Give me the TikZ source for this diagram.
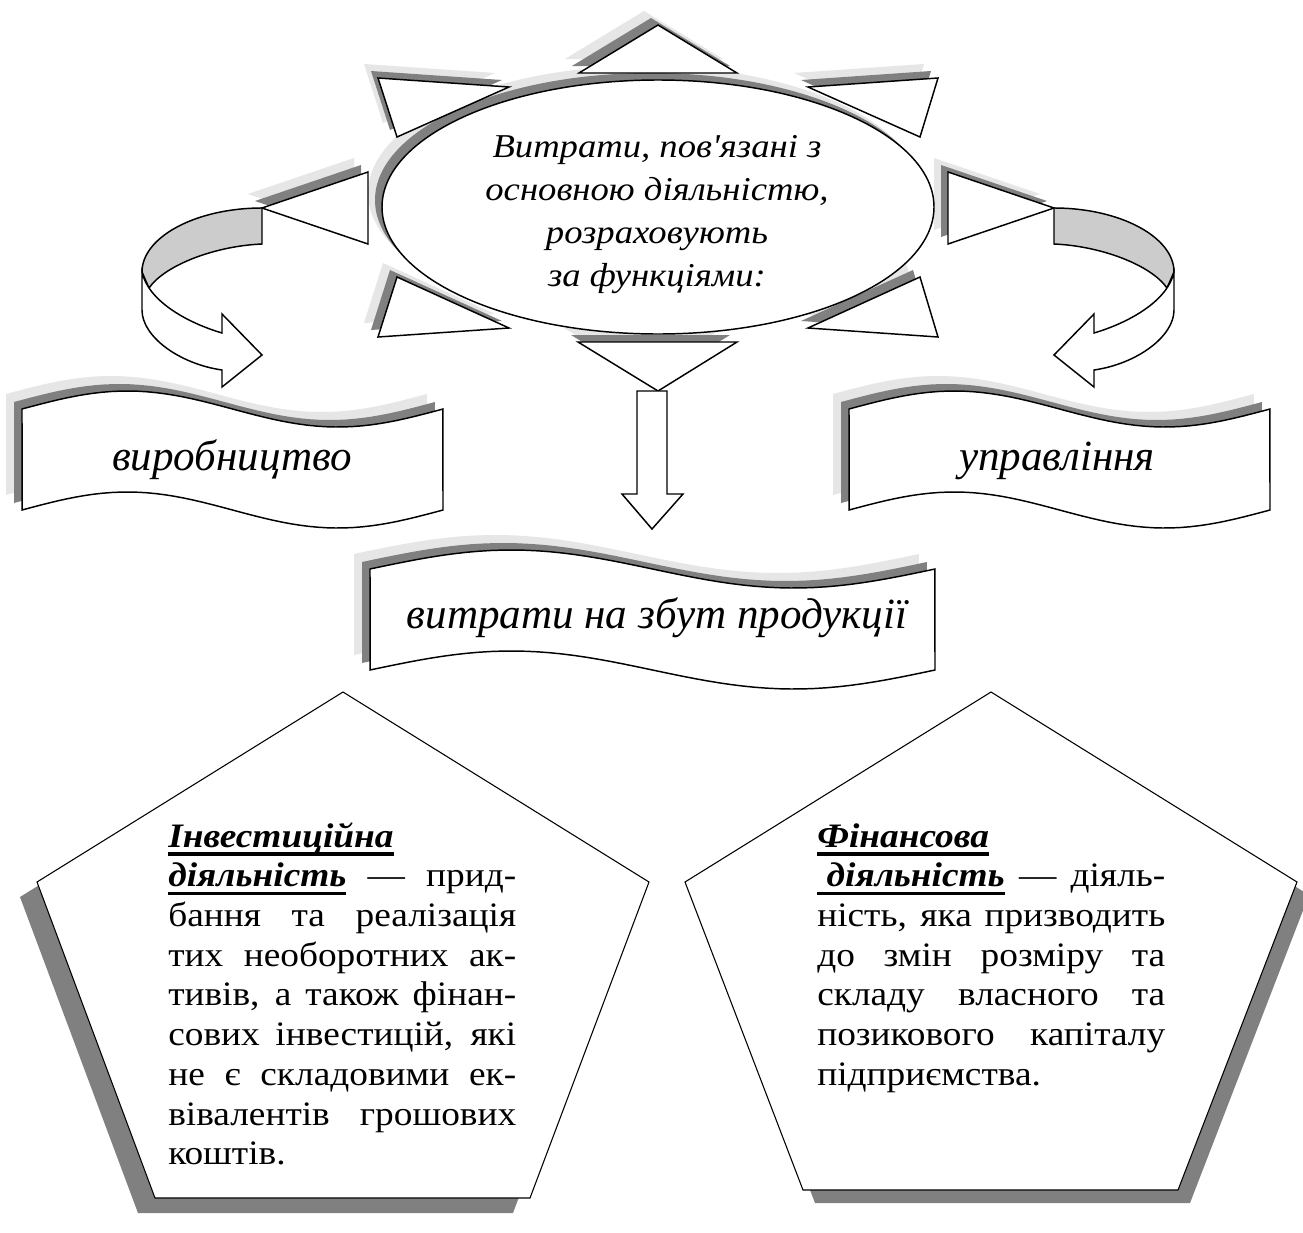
\documentclass[tikz,border=0pt]{standalone}
\usepackage{fontspec}
\setmainfont{Liberation Serif}[Ligatures=TeXOff]
\newfontfamily\pentfont{Liberation Serif}[Ligatures=TeXOff,FakeStretch=1.09]
\newfontfamily\ellfont{Liberation Serif}[Ligatures=TeXOff,FakeStretch=1.1]
\definecolor{shlight}{HTML}{E6E6E6}
\definecolor{shdark}{HTML}{808080}
\definecolor{ribbon}{HTML}{CCCCCC}
\newcommand\myul[1]{\leavevmode\setbox0=\hbox{#1}\rlap{\rule[-0.25em]{\wd0}{0.1em}}\box0\relax}
\newcommand\jline[1]{\makebox[\linewidth][s]{#1}}
% banner: x0, y0 (top), width, height, amplitude
\newcommand\wbanner[5]{%
  \fill[lsh,shift={(-16,-15)}] plot[domain=0:1,samples=48] ({#1+#3*\x},{#2-#5*sin(360*\x)}) -- plot[domain=1:0,samples=48] ({#1+#3*\x},{#2+#4-#5*sin(360*\x)}) -- cycle;
  \fill[dsh,shift={(-8,-7)}] plot[domain=0:1,samples=48] ({#1+#3*\x},{#2-#5*sin(360*\x)}) -- plot[domain=1:0,samples=48] ({#1+#3*\x},{#2+#4-#5*sin(360*\x)}) -- cycle;
  \filldraw[shline] plot[domain=0:1,samples=48] ({#1+#3*\x},{#2-#5*sin(360*\x)}) -- plot[domain=1:0,samples=48] ({#1+#3*\x},{#2+#4-#5*sin(360*\x)}) -- cycle;}
\newcommand\trishadow[3]{%
  \fill[lsh,shift={(-14,-14)}] #1 -- #2 -- #3 -- cycle;
  \fill[dsh,shift={(-7,-7)}] #1 -- #2 -- #3 -- cycle;}
\newcommand\tribody[3]{\filldraw[shline] #1 -- #2 -- #3 -- cycle;}
\newcommand\curvedarrow{%
  \filldraw[shline,fill=ribbon] (262,208) .. controls (196,208) and (142,237) .. (142,272)
     -- (149,288) .. controls (165,265) and (215,246) .. (262,244) -- cycle;
  \filldraw[shline] (142,272) -- (142,310) .. controls (142,337) and (180,364) .. (222,370)
     -- (222,387) -- (262,355) -- (222,314) -- (222,333)
     .. controls (185,322) and (148,300) .. (142,272) -- cycle;}
\begin{document}
\begin{tikzpicture}[x=0.75pt,y=-0.75pt,
  shline/.style={draw=black,fill=white,line width=1.1pt,line join=miter},
  lsh/.style={fill=shlight},
  dsh/.style={fill=shdark},
  pent/.style={draw=black,fill=white,line width=0.8pt,line join=miter},
  etext/.style={inner sep=0pt,anchor=base,font=\ellfont\fontsize{25}{32.25}\selectfont\itshape},
  btext/.style={inner sep=0pt,anchor=base,font=\fontsize{32.3}{38}\selectfont\itshape},
  ptext/.style={inner sep=0pt,anchor=base west,font=\pentfont\fontsize{25.7}{29.8}\selectfont}]
\useasboundingbox[fill=white] (0,0) rectangle (1303,1232);

% --- star around the ellipse ---
\trishadow{(658,25)}{(579,73)}{(737,73)}
\trishadow{(378,78)}{(509,87)}{(397,137)}
\trishadow{(808,87)}{(938,78)}{(920,137)}
\trishadow{(368,172)}{(368,244)}{(262,208)}
\trishadow{(948,172)}{(948,244)}{(1054,208)}
\trishadow{(397,277)}{(509,328)}{(378,337)}
\trishadow{(920,277)}{(938,337)}{(808,328)}
\trishadow{(578,342)}{(737,342)}{(658,391)}
\fill[lsh] (644,193) ellipse [x radius=276, y radius=127];
\fill[dsh] (651,200) ellipse [x radius=276, y radius=127];
\tribody{(658,25)}{(579,73)}{(737,73)}
\tribody{(378,78)}{(509,87)}{(397,137)}
\tribody{(808,87)}{(938,78)}{(920,137)}
\tribody{(368,172)}{(368,244)}{(262,208)}
\tribody{(948,172)}{(948,244)}{(1054,208)}
\tribody{(397,277)}{(509,328)}{(378,337)}
\tribody{(920,277)}{(938,337)}{(808,328)}
\tribody{(578,342)}{(737,342)}{(658,391)}
\filldraw[shline] (658,207) ellipse [x radius=276, y radius=127];
\node[etext] (centre) at (657,157) {\parbox[t]{420pt}{\centering Витрати, пов'язані з\\ основною діяльністю,\\ розраховують\\ за функціями:}};

% --- curved arrows ---
\curvedarrow
\begin{scope}[shift={(1316,0)},xscale=-1]
\curvedarrow
\end{scope}

% --- down arrow ---
\filldraw[shline] (637,391) -- (667,391) -- (667,494) -- (683,494) -- (652,529) -- (622,494) -- (637,494) -- cycle;

% --- banners ---
\wbanner{22}{409}{421}{101}{18}
\wbanner{849}{409}{421}{101}{18}
\wbanner{370}{569}{565}{101}{19}
\node[btext] (vyr) at (232,470) {виробництво};
\node[btext] (upr) at (1057,470) {управління};
\node[btext] (zbut) at (657,628) {витрати на збут продукції};

% --- pentagons ---
\fill[dsh,shift={(-17,15)}] (343,692) -- (649,882) -- (530,1198) -- (155,1198) -- (37,882) -- cycle;
\filldraw[pent] (343,692) -- (649,882) -- (530,1198) -- (155,1198) -- (37,882) -- cycle;
\fill[dsh,shift={(12,13)}] (991,692) -- (1297,882) -- (1178,1190) -- (803,1190) -- (685,882) -- cycle;
\filldraw[pent] (991,692) -- (1297,882) -- (1178,1190) -- (803,1190) -- (685,882) -- cycle;

\node[ptext] (invest) at (168,847) {\parbox[t]{261pt}{\lineskiplimit=-50pt
\myul{\textbf{\textit{Інвестиційна}}}\\
\jline{\myul{\textbf{\textit{діяльність}}} — прид-}\\
\jline{бання та реалізація}\\
\jline{тих необоротних ак-}\\
\jline{тивів, а також фінан-}\\
\jline{сових інвестицій, які}\\
\jline{не є складовими ек-}\\
\jline{вівалентів грошових}\\
коштів.}};
\node[ptext] (finance) at (817,847) {\parbox[t]{261pt}{\lineskiplimit=-50pt
\myul{\textbf{\textit{Фінансова}}}\\
\jline{\myul{\textbf{\textit{\ діяльність}}} — діяль-}\\
\jline{ність, яка призводить}\\
\jline{до змін розміру та}\\
\jline{складу власного та}\\
\jline{позикового капіталу}\\
підприємства.}};
\end{tikzpicture}
\end{document}
